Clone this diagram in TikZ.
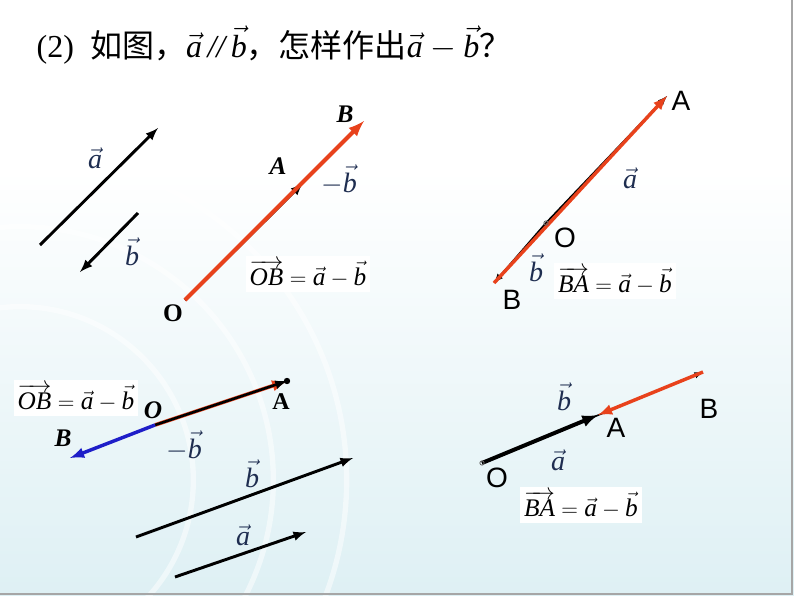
\documentclass[tikz,border=0pt]{standalone}
\usepackage{amsmath,amssymb}
\usepackage{fontspec}
\setmainfont{Liberation Serif}
\newfontfamily\cjk{Noto Sans CJK SC}
\newfontfamily\arialfont{Liberation Sans}
\usetikzlibrary{arrows}
\usetikzlibrary{positioning}

\definecolor{vecred}{RGB}{232,66,28}
\definecolor{vecblue}{RGB}{30,30,200}
\definecolor{labnavy}{RGB}{30,45,80}
\definecolor{bgblue}{RGB}{222,240,244}

\newcommand{\va}{\vec{\textit{a}}}
\newcommand{\vb}{\vec{\textit{b}}}

\begin{document}
\begin{tikzpicture}[x=0.75pt,y=-0.75pt,
	vec/.style={->,>=latex,line width=2.2pt,black},
	redvec/.style={->,>=latex,line width=2.6pt,vecred},
	lab/.style={font=\fontsize{21}{24}\selectfont,text=labnavy,inner sep=0pt},
	sanslab/.style={font=\fontsize{21}{24}\selectfont\arialfont,inner sep=0pt},
	boldlab/.style={font=\fontsize{19}{21}\selectfont\bfseries\itshape,inner sep=0pt},
	eqbox/.style={fill=white,font=\fontsize{19}{22}\selectfont,inner sep=3pt}]
		
		\useasboundingbox (0,0) rectangle (794,596);
		
		% background
		\begin{scope}
		\clip (0,0) rectangle (794,596);
		\fill[white] (0,0) rectangle (794,596);
		\shade[top color=white,bottom color=bgblue] (0,170) rectangle (794,596);
		\foreach \r in {130,190,245} \draw[white,line width=4pt,opacity=0.5] (20,480) circle (\r pt);
		\end{scope}
		\draw[gray!70,line width=1pt] (792,0) -- (792,594) -- (0,594);
		
		% title
		\node[anchor=west,font=\fontsize{24}{28}\selectfont] (title) at (32,45) {(2)\ \ {\cjk 如图，}$\va\,\textit{//}\,\vb${\cjk ，怎样作出}$\va-\vb${\cjk ？}};
		
		% given vectors
		\coordinate (a1s) at (40,245); \coordinate (a1e) at (158,128);
		\coordinate (b1s) at (138,213); \coordinate (b1e) at (80,272);
		\draw[vec] (a1s) -- (a1e);
		\draw[vec] (b1s) -- (b1e);
		\node[lab] (la1) at (95,158) {$\va$};
		\node[lab] (lb1) at (132,252) {$\vb$};
		
		% same direction
		\coordinate (O1) at (185,300); \coordinate (A1) at (303,183); \coordinate (B1) at (364,121);
		\draw[vec] (O1) -- (A1);
		\draw[redvec,line width=3pt] (O1) -- (B1);
		\node[boldlab] (lB1) at (345,114) {B};
		\node[boldlab] (lA1) at (278,166) {A};
		\node[lab] (lmb1) at (339,180) {$-\vb$};
		\node[boldlab,font=\fontsize{19}{21}\selectfont\bfseries] (lO1) at (173,313) {O};
		\node[eqbox] (eq1) at (308,274) {$\overrightarrow{\textit{OB}}=\va-\vb$};
		
		% opposite direction, from O
		\coordinate (O2) at (546,223); \coordinate (A2) at (667,96); \coordinate (B2) at (494,283);
		\draw[vec,line width=1.4pt] (O2) -- (A2);
		\draw[vec,line width=1.4pt] (O2) -- (B2);
		\draw[redvec] (B2) -- (A2);
		\draw[black!60,line width=0.6pt] (O2) circle (1.6pt);
		\node[sanslab] (lA2) at (681,101) {A};
		\node[lab] (la2) at (630,178) {$\va$};
		\node[sanslab] (lO2) at (565,238) {O};
		\node[sanslab] (lB2) at (512,300) {B};
		\node[lab] (lb2) at (536,268) {$\vb$};
		\node[eqbox] (eq2) at (615,281) {$\overrightarrow{\textit{BA}}=\va-\vb$};
		
		% OB = a - b, bottom left
		\coordinate (O3) at (155,425); \coordinate (A3) at (287,381); \coordinate (B3) at (70,458);
		\node[eqbox] (eq3) at (76,398) {$\overrightarrow{\textit{OB}}=\va-\vb$};
		\draw[redvec,line width=2.8pt] (O3) -- (A3);
		\draw[vec,line width=2pt,shift={(0,-1)}] (O3) -- (A3);
		\fill (A3) circle (2.4pt);
		\draw[->,>=latex,line width=2.6pt,vecblue] (O3) -- (B3);
		\node[boldlab] (lO3) at (153,410) {O};
		\node[boldlab,font=\fontsize{18}{20}\selectfont\bfseries] (lA3) at (281,402) {A};
		\node[boldlab] (lB3) at (63,438) {B};
		\node[lab] (lmb3) at (184,446) {$-\vb$};
		\coordinate (b3s) at (136,537); \coordinate (b3e) at (353,458);
		\coordinate (a3s) at (175,577); \coordinate (a3e) at (306,532);
		\draw[vec] (b3s) -- (b3e);
		\draw[vec] (a3s) -- (a3e);
		\node[lab] (lb3) at (252,474) {$\vb$};
		\node[lab] (la3) at (243,535) {$\va$};
		
		% BA = a - b, bottom right
		\coordinate (O4) at (482,463); \coordinate (A4) at (598,415); \coordinate (B4) at (703,372);
		\draw[vec,line width=1.2pt] (O4) -- (B4);
		\draw[vec,line width=3pt] (O4) -- (A4);
		\draw[redvec] (B4) -- (A4);
		\draw[black!60,line width=0.6pt] (O4) circle (1.6pt);
		\node[lab] (lb4) at (564,397) {$\vb$};
		\node[sanslab] (lA4) at (616,428) {A};
		\node[sanslab] (lB4) at (709,409) {B};
		\node[lab] (la4) at (558,460) {$\va$};
		\node[sanslab] (lO4) at (497,478) {O};
		\node[eqbox] (eq4) at (581,505) {$\overrightarrow{\textit{BA}}=\va-\vb$};
		
\end{tikzpicture}
\end{document}
